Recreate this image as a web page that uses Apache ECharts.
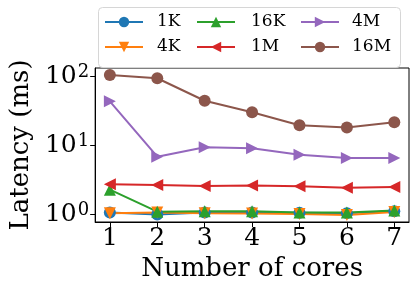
<!DOCTYPE html>
<html><head><meta charset="utf-8">
<script src="https://cdn.jsdelivr.net/npm/echarts@6/dist/echarts.min.js"></script>
<style>html,body{margin:0;padding:0;background:#fff}#c{width:416px;height:290px}</style>
</head><body><div id="c"></div>
<script>
const cores = [1, 2, 3, 4, 5, 6, 7];
const s1K  = [1.05, 0.98, 1.05, 1.05, 1.04, 1.03, 1.10];
const s4K  = [1.03, 1.05, 1.03, 1.02, 1.00, 0.97, 1.07];
const s16K = [2.25, 1.08, 1.10, 1.10, 1.05, 1.05, 1.12];
const s1M  = [2.69, 2.63, 2.55, 2.60, 2.52, 2.40, 2.46];
const s4M  = [43.0, 6.77, 9.26, 8.96, 7.24, 6.48, 6.48];
const s16M = [103, 92.7, 43.8, 29.8, 19.3, 18.0, 21.3];
const yTicks = [1, 10, 100];
const names = ['1K','4K','16K','1M','4M','16M'];
const values = [s1K, s4K, s16K, s1M, s4M, s16M];
const colors = ['#1f77b4','#ff7f0e','#2ca02c','#d62728','#9467bd','#8c564b'];
const symbols = ['circle','triangle','triangle','triangle','triangle','circle'];
const rots = [0, 180, 0, 90, -90, 0];
const F = 'DejaVu Serif';

const series = names.map((n, i) => ({
  name: n, type: 'line',
  data: cores.map((c, j) => [c, values[i][j]]),
  symbol: symbols[i], symbolRotate: rots[i], symbolSize: 12,
  lineStyle: {color: colors[i], width: 2},
  itemStyle: {color: colors[i]},
  animation: false
}));

function leg(left, data, padL) {
  return {
    orient: 'vertical', top: 12, left: left, padding: 0, itemWidth: 38, itemHeight: 13, itemGap: 5,
    textStyle: {fontFamily: F, fontSize: 17, color: '#000', lineHeight: 20, padding: [0,0,0,padL]},
    symbolRotate: 'inherit', data: data
  };
}

const chart = echarts.init(document.getElementById('c'));
chart.setOption({
  animation: false,
  graphic: [{type: 'rect', shape: {x: 98.5, y: 7.5, width: 302, height: 60, r: 4},
    style: {fill: '#fff', stroke: '#d6d6d6', lineWidth: 1}, z: 0}],
  legend: [leg(104, ['1K','4K'], 9), leg(196, ['16K','1M'], 11), leg(300, ['4M','16M'], 8)],
  grid: {left: 89, right: 7, top: 68, bottom: 68, show: true, borderColor: '#000', borderWidth: 1, backgroundColor: 'transparent'},
  xAxis: {
    type: 'value', min: 0.69, max: 7.31,
    name: 'Number of cores', nameLocation: 'middle', nameGap: 34,
    nameTextStyle: {fontFamily: F, fontSize: 26, color: '#000'},
    axisLine: {show: true, lineStyle: {color: '#000'}},
    axisTick: {show: true, length: 5, lineStyle: {color: '#000'}, customValues: cores},
    axisLabel: {fontFamily: F, fontSize: 25, color: '#000', margin: 4, customValues: cores},
    splitLine: {show: false}
  },
  yAxis: {
    type: 'log', min: 0.766, max: 130.6,
    name: 'Latency (ms)', nameLocation: 'middle', nameGap: 57,
    nameTextStyle: {fontFamily: F, fontSize: 26, color: '#000'},
    axisLine: {show: true, lineStyle: {color: '#000'}},
    axisTick: {show: true, length: 5, lineStyle: {color: '#000'}, customValues: yTicks},
    axisLabel: {fontFamily: F, fontSize: 25, color: '#000', margin: 6, customValues: yTicks,
      formatter: v => '{b|10}{s|' + Math.round(Math.log10(v)) + '}',
      rich: {b: {fontFamily: F, fontSize: 25, color: '#000'},
             s: {fontFamily: F, fontSize: 18, color: '#000', verticalAlign: 'top', padding: [0,0,0,1]}}},
    splitLine: {show: false}, minorTick: {show: false}
  },
  series: series
});
</script></body></html>
